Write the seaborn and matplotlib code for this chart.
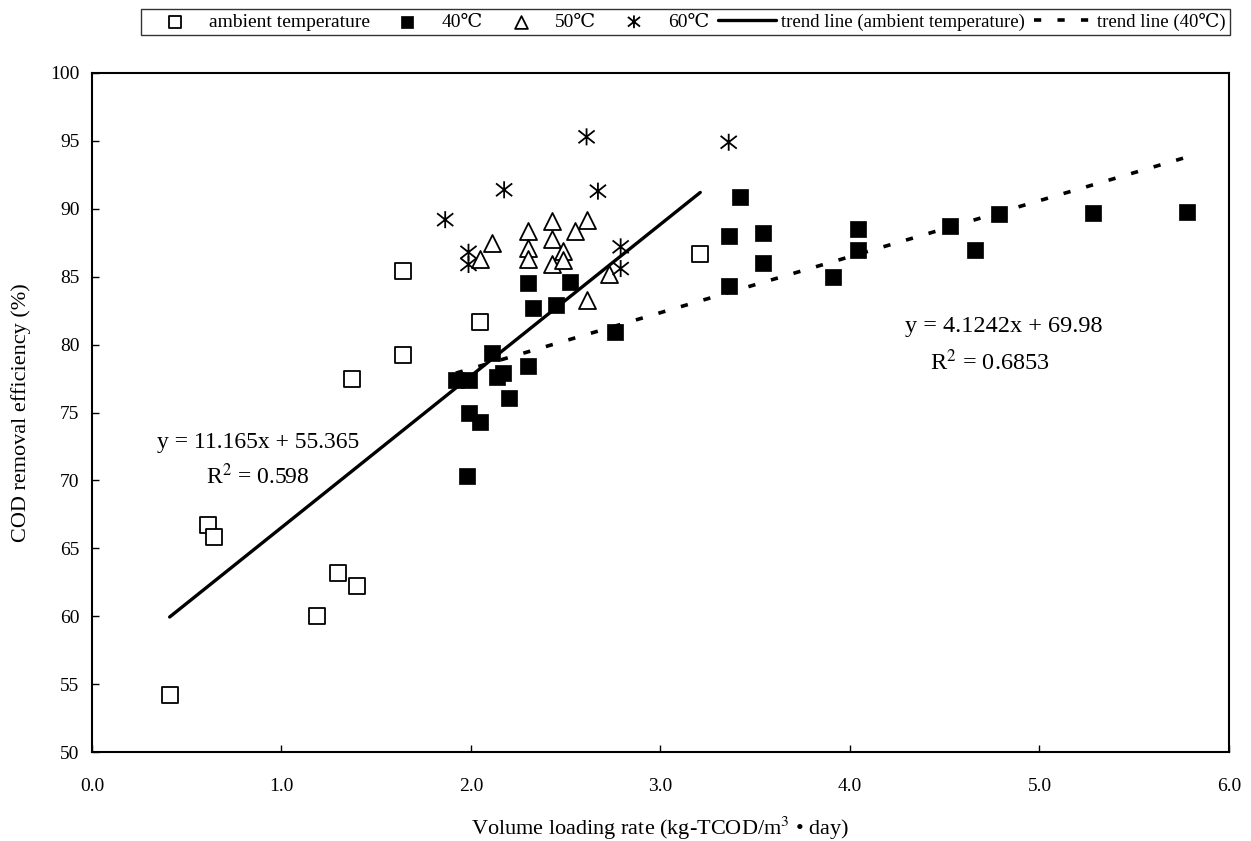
import numpy as np
import pandas as pd
import matplotlib
matplotlib.use("Agg")
import matplotlib.pyplot as plt
import seaborn as sns
from matplotlib.path import Path

# ── Data ──────────────────────────────────────────────────────────────────────
ambient_x = [0.41, 0.61, 0.645, 1.19, 1.30, 1.37, 1.40, 1.64, 1.64, 2.05, 3.21]
ambient_y = [54.2, 66.7, 65.8, 60.0, 63.2, 77.5, 62.2, 85.4, 79.2, 81.7, 86.7]

t40_x = [1.92, 1.98, 1.99, 1.99, 2.05, 2.11, 2.14, 2.17, 2.20, 2.30, 2.30, 2.33,
         2.45, 2.52, 2.76, 3.36, 3.36, 3.42, 3.54, 3.54, 3.91, 4.04, 4.04, 4.53,
         4.66, 4.785, 5.28, 5.78]
t40_y = [77.4, 70.3, 77.4, 75.0, 74.3, 79.4, 77.6, 77.9, 76.1, 84.5, 78.4, 82.7,
         82.9, 84.6, 80.9, 88.0, 84.3, 90.9, 88.2, 86.0, 84.95, 88.5, 87.0, 88.7,
         87.0, 89.6, 89.7, 89.8]

t50_x = [2.05, 2.11, 2.30, 2.30, 2.30, 2.43, 2.43, 2.43, 2.485, 2.485, 2.55,
         2.61, 2.61, 2.73]
t50_y = [86.3, 87.5, 88.4, 87.1, 86.3, 89.1, 87.8, 85.9, 86.9, 86.2, 88.4,
         89.2, 83.3, 85.2]

t60_x = [1.864, 1.987, 1.987, 2.175, 2.61, 2.67, 2.79, 2.79, 3.36]
t60_y = [89.2, 86.8, 85.9, 91.4, 95.3, 91.3, 87.2, 85.6, 94.9]

# trend lines as reported in the figure
amb_slope, amb_icpt, amb_r2 = 11.165, 55.365, 0.598
t40_slope, t40_icpt, t40_r2 = 4.1242, 69.98, 0.6853

labels = ["ambient temperature", "40℃", "50℃", "60℃",
          "trend line (ambient temperature)", "trend line (40℃)"]

# ── Style ─────────────────────────────────────────────────────────────────────
sns.set_theme(style="white")
plt.rcParams["font.family"] = ["Liberation Serif", "DejaVu Serif", "DejaVu Sans"]
plt.rcParams["mathtext.fontset"] = "stix"
plt.rcParams["text.color"] = "black"
plt.rcParams["axes.labelcolor"] = "black"

# Excel-like "x with a vertical bar" star marker
STAR = Path([(0, -1), (0, 1), (-0.95, -0.75), (0.95, 0.75), (-0.95, 0.75), (0.95, -0.75)],
            [Path.MOVETO, Path.LINETO] * 3)

fig = plt.figure(figsize=(12.51, 8.41), dpi=100)
ax = fig.add_axes([0.0735, 0.1058, 0.9089, 0.8074])

# ── Trend lines ───────────────────────────────────────────────────────────────
amb_line = pd.DataFrame({"x": [min(ambient_x), max(ambient_x)]})
amb_line["y"] = amb_slope * amb_line["x"] + amb_icpt
t40_line = pd.DataFrame({"x": [min(t40_x), max(t40_x)]})
t40_line["y"] = t40_slope * t40_line["x"] + t40_icpt

# ── Scatter ───────────────────────────────────────────────────────────────────
sns.scatterplot(x=ambient_x, y=ambient_y, marker="s", s=120, color="black",
                facecolor="white", edgecolor="black", linewidth=1.3,
                label=labels[0], ax=ax, zorder=3)
sns.scatterplot(x=t40_x, y=t40_y, marker="s", s=140, color="black",
                edgecolor="black", linewidth=0.5, label=labels[1], ax=ax, zorder=3)
sns.scatterplot(x=t50_x, y=t50_y, marker="^", s=150, color="black",
                facecolor="white", edgecolor="black", linewidth=1.3,
                label=labels[2], ax=ax, zorder=3)
sns.scatterplot(x=t60_x, y=t60_y, marker=STAR, s=150, color="black",
                facecolor="none", edgecolor="black", linewidth=1.3,
                label=labels[3], ax=ax, zorder=3)

sns.lineplot(data=amb_line, x="x", y="y", color="black", linewidth=2.4,
             label=labels[4], ax=ax, zorder=2)
sns.lineplot(data=t40_line, x="x", y="y", color="black", linewidth=2.6,
             linestyle=(0, (2, 4.5)), label=labels[5], ax=ax, zorder=2)

# equations
ax.text(0.875, 72.8, f"y = {amb_slope}x + {amb_icpt}", ha="center", va="center",
        fontsize=17)
ax.text(0.875, 70.3, f"R$^2$ = {amb_r2}", ha="center", va="center", fontsize=17)
ax.text(4.81, 81.3, f"y = {t40_slope}x + {t40_icpt}", ha="center", va="center",
        fontsize=17.5)
ax.text(4.74, 78.7, f"R$^2$ = {t40_r2}", ha="center", va="center", fontsize=17.5)

# ── Axes ──────────────────────────────────────────────────────────────────────
ax.set_xlim(0, 6)
ax.set_ylim(50, 100)
ax.set_xticks(np.arange(0, 6.1, 1.0))
ax.set_xticklabels([f"{v:.1f}" for v in np.arange(0, 6.1, 1.0)])
ax.set_yticks(np.arange(50, 101, 5))
ax.tick_params(direction="in", length=5, width=1, colors="black", labelsize=14,
               bottom=True, left=True)
ax.tick_params(axis="x", pad=19)
ax.tick_params(axis="y", pad=9)
for sp in ax.spines.values():
    sp.set_color("black")
    sp.set_linewidth(1.5)

ax.set_xlabel("Volume loading rate (kg-TCOD/m$^3$ • day)", fontsize=16,
              labelpad=14)
ax.set_ylabel("COD removal efficiency (%)", fontsize=16, labelpad=14)

# ── Legend ────────────────────────────────────────────────────────────────────
handles, lbls = ax.get_legend_handles_labels()
ax.get_legend().remove()
order = [lbls.index(l) for l in labels]
leg = fig.legend([handles[i] for i in order], [lbls[i] for i in order],
                 loc="upper center", bbox_to_anchor=(0.548, 0.994), ncol=6,
                 frameon=True, fancybox=False, edgecolor="black", fontsize=14,
                 handlelength=3.0, handletextpad=0.25, columnspacing=0.45,
                 borderpad=0.2, borderaxespad=0.2, markerscale=0.75)
leg.get_frame().set_linewidth(1.0)
for t in leg.get_texts()[4:]:
    t.set_fontsize(13.5)

plt.savefig("out.png", dpi=100)
plt.close()
